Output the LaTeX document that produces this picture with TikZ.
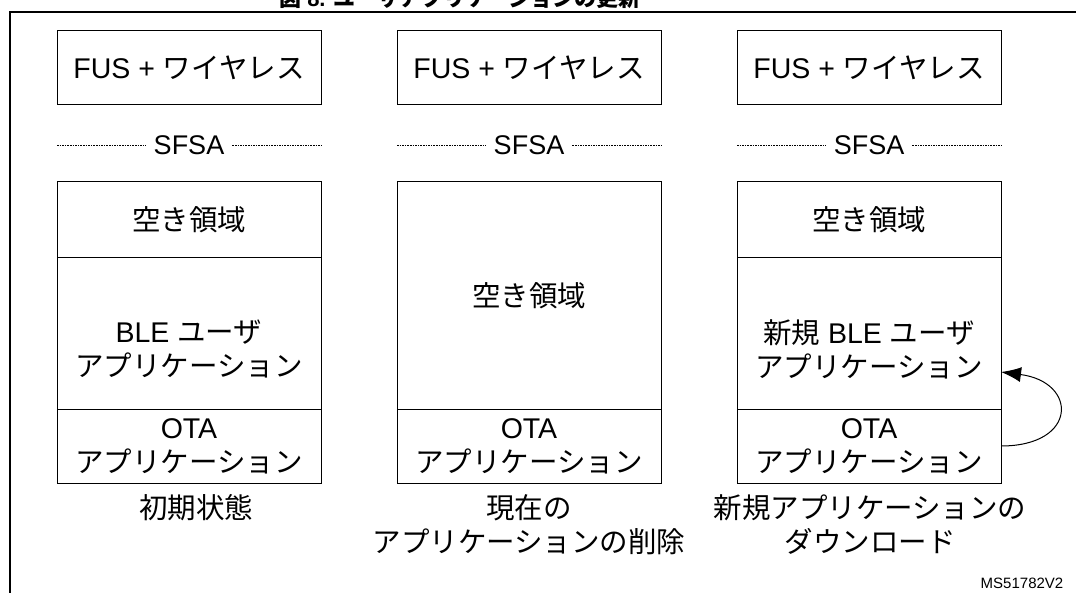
\documentclass[tikz,border=0pt]{standalone}
\usepackage{fontspec}
\setmainfont{Liberation Sans}
\newfontfamily\jp{Noto Sans CJK JP}
\usetikzlibrary{arrows.meta}
\tikzset{
  box/.style={draw=black, line width=1pt, inner sep=0pt, minimum width=264pt, align=center,
    font=\fontsize{28.5pt}{34pt}\selectfont},
  lbl/.style={inner sep=0pt, align=center, font=\fontsize{28.5pt}{34pt}\selectfont},
  dotline/.style={line width=0.7pt, dash pattern=on 1.6pt off 1pt},
  frame/.style={line width=1.5pt},
}
\begin{document}
\begin{tikzpicture}[x=1pt,y=-1pt]
\useasboundingbox (0,0) rectangle (1076,593);
\clip (0,0) rectangle (1076,593);
% title (cut off at top)
\node[anchor=base, inner sep=0pt, font=\fontsize{22pt}{26pt}\selectfont\bfseries] (title) at (460,7) {{\jp 図} 8. {\jp ユーザアプリケーションの更新}};
% frame
\coordinate (fr0) at (10,12);
\coordinate (fr1) at (1076,12);
\coordinate (fr2) at (10,593);
\draw[frame] (fr1) -- (fr0) -- (fr2);

% columns
\foreach \i/\cx in {1/189,2/529,3/869}{
  \node[box, minimum height=74pt] (fus\i) at (\cx,68) {FUS + {\jp ワイヤレス}};
  \node[lbl, font=\fontsize{27pt}{30pt}\selectfont] (sfsa\i) at (\cx,145) {SFSA};
  \coordinate (sl\i) at (\cx-132,145);
  \coordinate (sr\i) at (\cx+132,145);
  \draw[dotline] (sl\i) -- ([xshift=-8pt]sfsa\i.west);
  \draw[dotline] ([xshift=8pt]sfsa\i.east) -- (sr\i);
  \node[box, minimum height=74pt] (ota\i) at (\cx,446) {OTA\\{\jp アプリケーション}};
}
% column 1
\node[box, minimum height=76pt] (free1) at (189,220) {{\jp 空き領域}};
\node[box, minimum height=151pt] (ble1) at (189,333.5) {};
\node[lbl] (ble1t) at (189,349) {BLE {\jp ユーザ}\\{\jp アプリケーション}};
% column 2
\node[box, minimum height=227pt] (free2) at (529,295.5) {{\jp 空き領域}};
% column 3
\node[box, minimum height=76pt] (free3) at (869,220) {{\jp 空き領域}};
\node[box, minimum height=151pt] (ble3) at (869,333.5) {};
\node[lbl] (ble3t) at (869,349) {{\jp 新規} BLE {\jp ユーザ}\\{\jp アプリケーション}};

% arrow
\coordinate (a0) at (1001,446);
\coordinate (a1) at (1001,372);
\draw[line width=1pt, -{Latex[length=20pt,width=15pt]}] (a0) .. controls (1078,446) and (1078,382) .. (a1);

% captions
\node[lbl] (cap1) at (196,508) {{\jp 初期状態}};
\node[lbl] (cap2) at (529,525) {{\jp 現在の}\\{\jp アプリケーションの削除}};
\node[lbl] (cap3) at (870,525) {{\jp 新規アプリケーションの}\\{\jp ダウンロード}};

\node[anchor=base, inner sep=0pt, font=\fontsize{15pt}{18pt}\selectfont] (code) at (1022,588) {MS51782V2};
\end{tikzpicture}
\end{document}
